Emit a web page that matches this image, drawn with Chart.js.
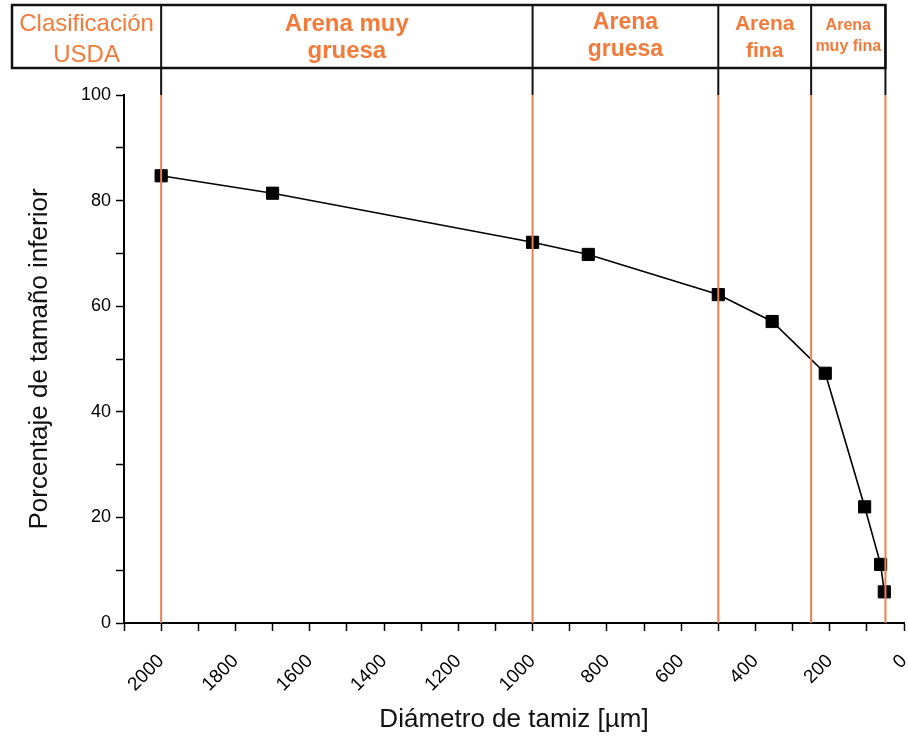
<!DOCTYPE html>
<html>
<head>
<meta charset="utf-8">
<script src="https://cdn.jsdelivr.net/npm/chart.js@4.4.1/dist/chart.umd.min.js"></script>
<style>
  html, body { margin: 0; padding: 0; background: #fff; }
  canvas { display: block; }
</style>
</head>
<body>
<canvas id="c" width="908" height="742"></canvas>
<script>
// ---- data ----
const sieveSizes = [2000, 1700, 1000, 850, 500, 355, 212, 106, 63, 53];      // µm
const percentFiner = [84.7, 81.4, 72.1, 69.8, 62.2, 57.1, 47.3, 22.0, 11.1, 5.9];
const xTickLabels = [2000, 1800, 1600, 1400, 1200, 1000, 800, 600, 400, 200, 0];
const yTickLabels = [0, 20, 40, 60, 80, 100];
const classBoundaries = [2000, 1000, 500, 250, 50];
const classNames = [
  ["Clasificación", "USDA"],
  ["Arena muy", "gruesa"],
  ["Arena", "gruesa"],
  ["Arena", "fina"],
  ["Arena", "muy fina"]
];

// ---- header / class lines plugin ----
const ORANGE_TEXT = '#f47a3a';
const ORANGE_LINE = '#ee7f52';
const headerStyle = {
  left: 12, top: 5, bottom: 68,
  fonts: ['24px "Liberation Sans", Arial, sans-serif',
          'bold 24px "Liberation Sans", Arial, sans-serif',
          'bold 23px "Liberation Sans", Arial, sans-serif',
          'bold 21px "Liberation Sans", Arial, sans-serif',
          'bold 16px "Liberation Sans", Arial, sans-serif'],
  base1: [31, 31, 29, 30, 30],
  base2: [62, 58, 56, 57, 51]
};

const usdaPlugin = {
  id: 'usda',
  afterDraw(chart) {
    const { ctx, chartArea, scales } = chart;
    const xs = scales.x;
    const px = classBoundaries.map(v => xs.getPixelForValue(v));
    const edges = [headerStyle.left, ...px];
    ctx.save();
    // orange class lines in plot area
    ctx.strokeStyle = ORANGE_LINE;
    ctx.lineWidth = 2;
    px.forEach(p => {
      ctx.beginPath();
      ctx.moveTo(p, chartArea.top);
      ctx.lineTo(p, chartArea.bottom);
      ctx.stroke();
    });
    // black dividers from header down to plot top
    ctx.strokeStyle = '#111';
    ctx.lineWidth = 2;
    px.forEach(p => {
      ctx.beginPath();
      ctx.moveTo(p, headerStyle.top);
      ctx.lineTo(p, chartArea.top);
      ctx.stroke();
    });
    // header box
    ctx.lineWidth = 2.5;
    ctx.strokeRect(headerStyle.left, headerStyle.top,
                   px[px.length - 1] - headerStyle.left,
                   headerStyle.bottom - headerStyle.top);
    // header texts
    ctx.fillStyle = ORANGE_TEXT;
    ctx.textAlign = 'center';
    ctx.textBaseline = 'alphabetic';
    classNames.forEach((lines, i) => {
      const cx = (edges[i] + edges[i + 1]) / 2;
      ctx.font = headerStyle.fonts[i];
      ctx.fillText(lines[0], cx, headerStyle.base1[i]);
      ctx.fillText(lines[1], cx, headerStyle.base2[i]);
    });
    ctx.restore();
  }
};

new Chart(document.getElementById('c'), {
  type: 'line',
  data: {
    datasets: [{
      data: sieveSizes.map((s, i) => ({ x: s, y: percentFiner[i] })),
      borderColor: '#000',
      borderWidth: 1.6,
      backgroundColor: '#000',
      pointStyle: 'rect',
      pointRadius: 8.6,
      pointBackgroundColor: '#000',
      pointBorderColor: '#000',
      pointBorderWidth: 1,
      tension: 0,
      fill: false,
      clip: false
    }]
  },
  options: {
    responsive: false,
    animation: false,
    layout: { autoPadding: false, padding: { top: 95, left: 24, right: 4, bottom: 5 } },
    plugins: { legend: { display: false }, tooltip: { enabled: false } },
    scales: {
      x: {
        type: 'linear',
        reverse: true,
        min: 0,
        max: 2100,
        ticks: {
          stepSize: 100,
          autoSkip: false,
          minRotation: 45,
          maxRotation: 45,
          padding: 19,
          labelOffset: 0,
          color: '#000',
          font: { family: '"Liberation Sans", Arial, sans-serif', size: 19 },
          callback: v => xTickLabels.includes(v) ? String(v) : ''
        },
        grid: { drawOnChartArea: false, drawTicks: true, tickLength: 8, tickColor: '#000', tickWidth: 1.5 },
        border: { color: '#000', width: 2 },
        title: {
          display: true,
          text: 'Diámetro de tamiz [µm]',
          color: '#111',
          font: { family: '"Liberation Sans", Arial, sans-serif', size: 26 },
          padding: { top: 0, bottom: 2 }
        },
        afterFit: s => { s.height = 114; s.paddingLeft = 0; s.paddingRight = 0; }
      },
      y: {
        min: 0,
        max: 100,
        ticks: {
          stepSize: 10,
          autoSkip: false,
          padding: 5,
          color: '#000',
          font: { family: '"Liberation Sans", Arial, sans-serif', size: 18 },
          callback: v => yTickLabels.includes(v) ? String(v) : ''
        },
        grid: { drawOnChartArea: false, drawTicks: true, tickLength: 8, tickColor: '#000', tickWidth: 1.5 },
        border: { color: '#000', width: 2 },
        title: {
          display: true,
          text: 'Porcentaje de tamaño inferior',
          color: '#111',
          font: { family: '"Liberation Sans", Arial, sans-serif', size: 26 },
          padding: { top: 0, bottom: 4 }
        },
        afterFit: s => { s.width = 100; s.paddingTop = 0; s.paddingBottom = 0; }
      }
    }
  },
  plugins: [usdaPlugin]
});
</script>
</body>
</html>
